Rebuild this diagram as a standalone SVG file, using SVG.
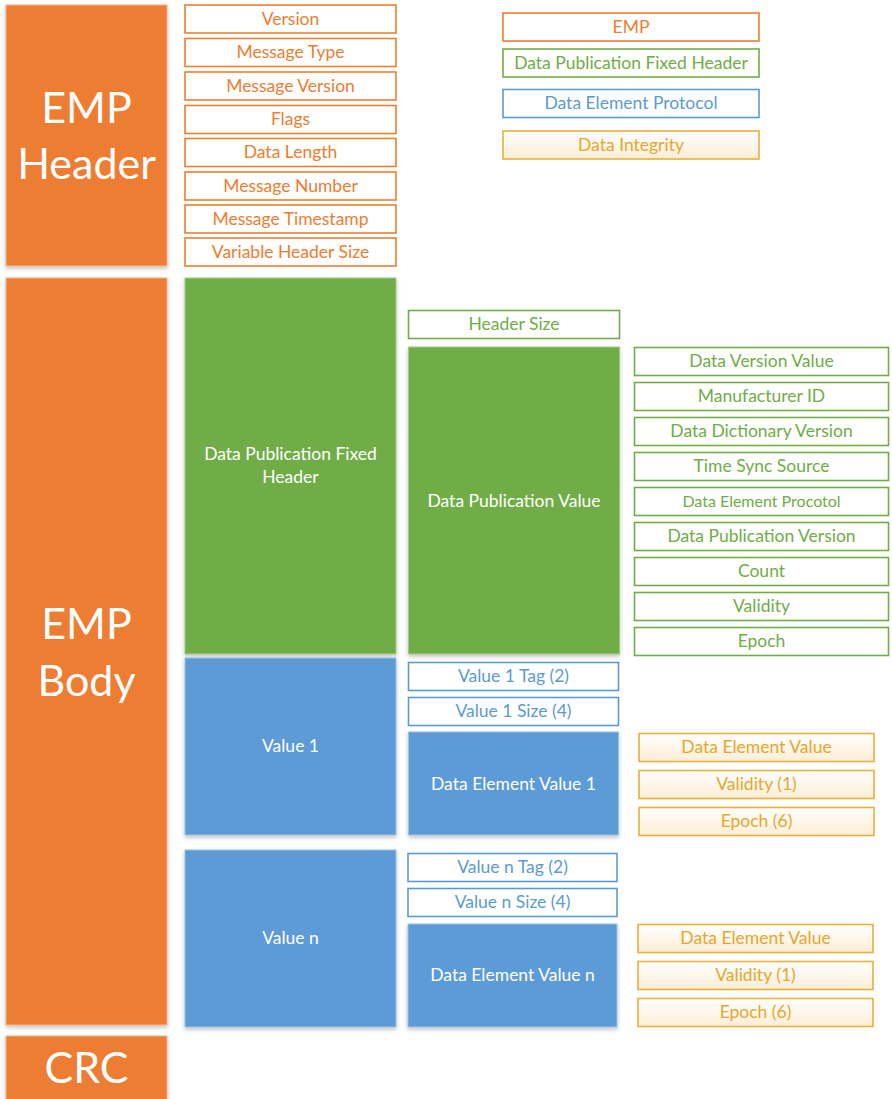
<svg xmlns="http://www.w3.org/2000/svg" width="892" height="1099" viewBox="0 0 892 1099">
  <defs>
    <linearGradient id="goldFill" x1="0" y1="0" x2="0" y2="1">
      <stop offset="0" stop-color="#ffffff"/>
      <stop offset="1" stop-color="#fdeed6"/>
    </linearGradient>
    <filter id="drop" x="-10%" y="-10%" width="120%" height="120%">
      <feGaussianBlur in="SourceAlpha" stdDeviation="2"/>
      <feOffset dy="2" result="b"/>
      <feComponentTransfer><feFuncA type="linear" slope="0.25"/></feComponentTransfer>
      <feMerge><feMergeNode/><feMergeNode in="SourceGraphic"/></feMerge>
    </filter>
  </defs>
  <style>
    text { font-family: Lato, "Open Sans", "Liberation Sans", sans-serif; text-anchor: middle; dominant-baseline: central; }
    .big { font-size: 43px; fill: #ffffff; }
    .lbl { font-size: 17.5px; fill: #ffffff; }
    .f { font-size: 17.5px; }
    .orange-block { fill: #ED7D31; stroke: #f2b48a; stroke-width: 1; filter: url(#drop); }
    .green-block { fill: #70AD47; stroke: #a3c98a; stroke-width: 1; filter: url(#drop); }
    .blue-block { fill: #5B9BD5; stroke: #9cc2e6; stroke-width: 1; filter: url(#drop); }
    .o { fill: #ffffff; stroke: #ED7D31; stroke-width: 1.6; }
    .g { fill: #ffffff; stroke: #70AD47; stroke-width: 1.6; }
    .b { fill: #ffffff; stroke: #5B9BD5; stroke-width: 1.6; }
    .y { fill: url(#goldFill); stroke: #E9B03A; stroke-width: 1.6; }
    .ot { fill: #ED7D31; }
    .gt { fill: #70AD47; }
    .bt { fill: #5B9BD5; }
    .yt { fill: #E6A72E; }
  </style>

  <!-- top-level sections -->
  <g id="emp-header">
    <rect class="orange-block" x="6" y="5" width="161" height="261"/>
    <text class="big" x="86.5" y="106">EMP</text>
    <text class="big" x="86.5" y="162">Header</text>
  </g>
  <g id="emp-body">
    <rect class="orange-block" x="6" y="278" width="161" height="747"/>
    <text class="big" x="86.5" y="622">EMP</text>
    <text class="big" x="86.5" y="679">Body</text>
  </g>
  <g id="crc">
    <rect class="orange-block" x="6" y="1036" width="161" height="80"/>
    <text class="big" x="86.5" y="1066">CRC</text>
  </g>

  <!-- EMP header fields -->
  <g id="hdr-version"><rect class="o" x="185" y="5" width="211" height="28"/><text class="f ot" x="290.5" y="18">Version</text></g>
  <g id="hdr-message-type"><rect class="o" x="185" y="38.5" width="211" height="28"/><text class="f ot" x="290.5" y="51.5">Message Type</text></g>
  <g id="hdr-message-version"><rect class="o" x="185" y="72" width="211" height="28"/><text class="f ot" x="290.5" y="85">Message Version</text></g>
  <g id="hdr-flags"><rect class="o" x="185" y="105.5" width="211" height="28"/><text class="f ot" x="290.5" y="118.5">Flags</text></g>
  <g id="hdr-data-length"><rect class="o" x="185" y="138.5" width="211" height="28"/><text class="f ot" x="290.5" y="151.5">Data Length</text></g>
  <g id="hdr-message-number"><rect class="o" x="185" y="172" width="211" height="28"/><text class="f ot" x="290.5" y="185">Message Number</text></g>
  <g id="hdr-message-timestamp"><rect class="o" x="185" y="205" width="211" height="28"/><text class="f ot" x="290.5" y="218">Message Timestamp</text></g>
  <g id="hdr-variable-header-size"><rect class="o" x="185" y="238" width="211" height="28"/><text class="f ot" x="290.5" y="251">Variable Header Size</text></g>

  <!-- legend -->
  <g id="legend-emp"><rect class="o" x="503" y="13" width="256" height="28"/><text class="f ot" x="631" y="26">EMP</text></g>
  <g id="legend-dpfh"><rect class="g" x="503" y="49" width="256" height="28"/><text class="f gt" x="631" y="62">Data Publication Fixed Header</text></g>
  <g id="legend-dep"><rect class="b" x="503" y="89.5" width="256" height="28"/><text class="f bt" x="631" y="102.5">Data Element Protocol</text></g>
  <g id="legend-di"><rect class="y" x="503" y="131" width="256" height="28"/><text class="f yt" x="631" y="144">Data Integrity</text></g>

  <!-- data publication fixed header -->
  <g id="dpfh">
    <rect class="green-block" x="185" y="278" width="211" height="376"/>
    <text class="lbl" x="290.5" y="453">Data Publication Fixed</text>
    <text class="lbl" x="290.5" y="476">Header</text>
  </g>
  <g id="dpfh-header-size"><rect class="g" x="408.5" y="310.5" width="211" height="28"/><text class="f gt" x="514" y="323.5">Header Size</text></g>
  <g id="dpfh-value">
    <rect class="green-block" x="408.5" y="347" width="211" height="307"/>
    <text class="lbl" x="514" y="500">Data Publication Value</text>
  </g>
  <g id="dpv-data-version-value"><rect class="g" x="634.5" y="347.5" width="254" height="28"/><text class="f gt" x="761.5" y="360.5">Data Version Value</text></g>
  <g id="dpv-manufacturer-id"><rect class="g" x="634.5" y="382.5" width="254" height="28"/><text class="f gt" x="761.5" y="395.5">Manufacturer ID</text></g>
  <g id="dpv-data-dictionary-version"><rect class="g" x="634.5" y="417.5" width="254" height="28"/><text class="f gt" x="761.5" y="430.5">Data Dictionary Version</text></g>
  <g id="dpv-time-sync-source"><rect class="g" x="634.5" y="452.5" width="254" height="28"/><text class="f gt" x="761.5" y="465.5">Time Sync Source</text></g>
  <g id="dpv-data-element-protocol"><rect class="g" x="634.5" y="487.5" width="254" height="28"/><text class="f gt" x="761.5" y="500.5" style="font-size:16px">Data Element Procotol</text></g>
  <g id="dpv-data-publication-version"><rect class="g" x="634.5" y="522.5" width="254" height="28"/><text class="f gt" x="761.5" y="535.5">Data Publication Version</text></g>
  <g id="dpv-count"><rect class="g" x="634.5" y="557.5" width="254" height="28"/><text class="f gt" x="761.5" y="570.5">Count</text></g>
  <g id="dpv-validity"><rect class="g" x="634.5" y="592.5" width="254" height="28"/><text class="f gt" x="761.5" y="605.5">Validity</text></g>
  <g id="dpv-epoch"><rect class="g" x="634.5" y="627.5" width="254" height="28"/><text class="f gt" x="761.5" y="640.5">Epoch</text></g>

  <!-- value 1 -->
  <g id="value-1">
    <rect class="blue-block" x="185" y="658" width="211" height="177"/>
    <text class="lbl" x="290.5" y="745.5">Value 1</text>
  </g>
  <g id="value-1-tag"><rect class="b" x="408.5" y="662.5" width="210" height="28"/><text class="f bt" x="513.5" y="675.5">Value 1 Tag (2)</text></g>
  <g id="value-1-size"><rect class="b" x="408.5" y="697.5" width="210" height="28"/><text class="f bt" x="513.5" y="710.5">Value 1 Size (4)</text></g>
  <g id="data-element-value-1">
    <rect class="blue-block" x="408.5" y="732" width="210" height="103"/>
    <text class="lbl" x="513.5" y="783">Data Element Value 1</text>
  </g>
  <g id="dev1-value"><rect class="y" x="639" y="733.5" width="235" height="28"/><text class="f yt" x="756.5" y="746.5">Data Element Value</text></g>
  <g id="dev1-validity"><rect class="y" x="639" y="770.5" width="235" height="28"/><text class="f yt" x="756.5" y="783.5">Validity (1)</text></g>
  <g id="dev1-epoch"><rect class="y" x="639" y="807.5" width="235" height="28"/><text class="f yt" x="756.5" y="820.5">Epoch (6)</text></g>

  <!-- value n -->
  <g id="value-n">
    <rect class="blue-block" x="185" y="850" width="211" height="177"/>
    <text class="lbl" x="290.5" y="937.5">Value n</text>
  </g>
  <g id="value-n-tag"><rect class="b" x="408" y="853.5" width="209" height="28"/><text class="f bt" x="512.5" y="866.5">Value n Tag (2)</text></g>
  <g id="value-n-size"><rect class="b" x="408" y="888.5" width="209" height="28"/><text class="f bt" x="512.5" y="901.5">Value n Size (4)</text></g>
  <g id="data-element-value-n">
    <rect class="blue-block" x="408" y="924" width="209" height="103"/>
    <text class="lbl" x="512.5" y="974">Data Element Value n</text>
  </g>
  <g id="devn-value"><rect class="y" x="638" y="924.5" width="235" height="28"/><text class="f yt" x="755.5" y="937.5">Data Element Value</text></g>
  <g id="devn-validity"><rect class="y" x="638" y="961.5" width="235" height="28"/><text class="f yt" x="755.5" y="974.5">Validity (1)</text></g>
  <g id="devn-epoch"><rect class="y" x="638" y="998.5" width="235" height="28"/><text class="f yt" x="755.5" y="1011.5">Epoch (6)</text></g>

  <!-- no connectors in this layout -->
  <g id="connectors"/>
</svg>
